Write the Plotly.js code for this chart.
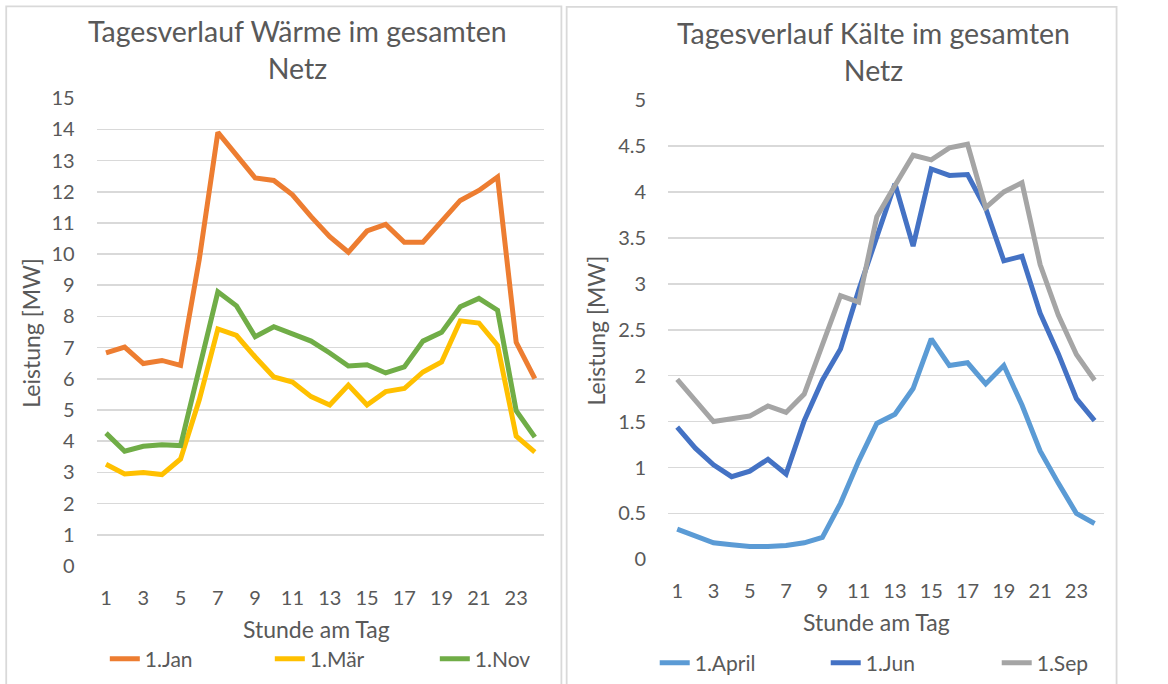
<!DOCTYPE html>
<html>
<head>
<meta charset="utf-8">
<script src="https://cdn.plot.ly/plotly-3.0.1.min.js"></script>
<style>
  html, body { margin: 0; padding: 0; background: #ffffff; overflow: hidden; }
  #chart { width: 1168px; height: 684px; }
</style>
</head>
<body>
<div id="chart"></div>
<script>
// Hours of the day (category axis)
const hours = [1,2,3,4,5,6,7,8,9,10,11,12,13,14,15,16,17,18,19,20,21,22,23,24];
const hourTicks = [1,3,5,7,9,11,13,15,17,19,21,23];

// Left chart: Wärme [MW]
const warmNames = ["1.Jan", "1.Mär", "1.Nov"];
const jan = [6.83, 7.02, 6.49, 6.59, 6.43, 9.82, 13.9, 13.15, 12.44, 12.36, 11.9, 11.2, 10.56, 10.06, 10.74, 10.95, 10.38, 10.38, 11.06, 11.72, 12.04, 12.47, 7.17, 6.01];
const mar = [3.26, 2.95, 3.0, 2.93, 3.43, 5.32, 7.6, 7.39, 6.7, 6.06, 5.9, 5.43, 5.16, 5.8, 5.16, 5.59, 5.69, 6.22, 6.54, 7.86, 7.79, 7.07, 4.16, 3.65];
const nov = [4.26, 3.68, 3.84, 3.89, 3.86, 6.33, 8.79, 8.34, 7.35, 7.67, 7.42, 7.21, 6.83, 6.41, 6.45, 6.19, 6.38, 7.21, 7.49, 8.31, 8.58, 8.2, 4.98, 4.13];

// Right chart: Kälte [MW]
const coldNames = ["1.April", "1.Jun", "1.Sep"];
const april = [0.33, 0.25, 0.18, 0.16, 0.14, 0.14, 0.15, 0.18, 0.24, 0.61, 1.07, 1.48, 1.58, 1.86, 2.40, 2.11, 2.14, 1.91, 2.11, 1.68, 1.18, 0.83, 0.50, 0.39];
const jun = [1.44, 1.21, 1.03, 0.90, 0.96, 1.09, 0.93, 1.51, 1.95, 2.29, 2.93, 3.53, 4.09, 3.41, 4.25, 4.18, 4.19, 3.82, 3.25, 3.30, 2.68, 2.24, 1.75, 1.51];
const sep = [1.96, 1.73, 1.50, 1.53, 1.56, 1.67, 1.60, 1.80, 2.35, 2.87, 2.80, 3.73, 4.07, 4.40, 4.35, 4.48, 4.52, 3.83, 4.00, 4.10, 3.21, 2.66, 2.23, 1.95];

const titleLeft = "Tagesverlauf Wärme im gesamten<br>Netz";
const titleRight = "Tagesverlauf Kälte im gesamten<br>Netz";
const xTitle = "Stunde am Tag";
const yTitle = "Leistung [MW]";

const W = 1168, H = 684;
const FONT = "Lato, 'Open Sans', sans-serif";
const TXT = "#595959";
const GRID = "#D9D9D9";
const px = v => v / W;
const py = v => (H - v) / H;

function line(x, y, name, color, xa, ya, leg) {
  return { x: x, y: y, name: name, type: "scatter", mode: "lines",
           line: { color: color, width: 5, shape: "linear" },
           xaxis: xa, yaxis: ya, legend: leg, hoverinfo: "x+y+name" };
}

const data = [
  line(hours, jan, warmNames[0], "#ED7D31", "x", "y", "legend"),
  line(hours, mar, warmNames[1], "#FFC000", "x", "y", "legend"),
  line(hours, nov, warmNames[2], "#70AD47", "x", "y", "legend"),
  line(hours, april, coldNames[0], "#5B9BD5", "x2", "y2", "legend2"),
  line(hours, jun, coldNames[1], "#4472C4", "x2", "y2", "legend2"),
  line(hours, sep, coldNames[2], "#A5A5A5", "x2", "y2", "legend2")
];

const tickFont = { family: FONT, size: 20, color: TXT };
function xAxis(domain) {
  return { domain: domain, range: [0.5, 24.5], tickmode: "array", tickvals: hourTicks,
           showgrid: false, zeroline: false, showline: false, ticks: "",
           tickfont: tickFont, ticklabelstandoff: 18, fixedrange: true };
}
function yAxis(domain, range, dtick) {
  return { domain: domain, range: range, dtick: dtick, tick0: 0,
           showgrid: true, gridcolor: GRID, gridwidth: 1.6, zeroline: false, showline: false,
           ticks: "", tickfont: tickFont, ticklabelstandoff: 21, fixedrange: true };
}

const layout = {
  width: W, height: H, autosize: false,
  margin: { l: 0, r: 0, t: 0, b: 0, pad: 0 },
  paper_bgcolor: "#ffffff", plot_bgcolor: "rgba(0,0,0,0)",
  font: { family: FONT, color: TXT },
  xaxis: xAxis([px(101), px(568.5)]),
  yaxis: Object.assign(yAxis([py(571), py(99)], [0, 15], 1), { anchor: "x" }),
  xaxis2: Object.assign(xAxis([px(698), px(1153)]), { anchor: "y2" }),
  yaxis2: Object.assign(yAxis([py(564.3), py(101)], [0, 5], 0.5), { anchor: "x2" }),
  legend: { orientation: "h", x: px(109.5), xanchor: "left", y: py(665), yanchor: "middle",
            font: { family: FONT, size: 21, color: TXT }, bgcolor: "rgba(0,0,0,0)",
            entrywidth: 120, entrywidthmode: "pixels", traceorder: "normal" },
  legend2: { orientation: "h", x: px(684), xanchor: "left", y: py(669), yanchor: "middle",
             font: { family: FONT, size: 21, color: TXT }, bgcolor: "rgba(0,0,0,0)",
             entrywidth: 126, entrywidthmode: "pixels", traceorder: "normal" },
  shapes: [
    { type: "rect", xref: "paper", yref: "paper", x0: px(6.5), x1: px(586.5), y0: -0.05, y1: py(6.5),
      line: { color: GRID, width: 1.8 }, fillcolor: "rgba(0,0,0,0)", layer: "below" },
    { type: "rect", xref: "paper", yref: "paper", x0: px(592), x1: px(1166.5), y0: -0.05, y1: py(7),
      line: { color: GRID, width: 1.8 }, fillcolor: "rgba(0,0,0,0)", layer: "below" }
  ],
  annotations: [
    { text: titleLeft, xref: "paper", yref: "paper", x: px(311), y: py(50), xanchor: "center", yanchor: "middle",
      showarrow: false, font: { family: FONT, size: 28.5, color: TXT } },
    { text: titleRight, xref: "paper", yref: "paper", x: px(913), y: py(52), xanchor: "center", yanchor: "middle",
      showarrow: false, font: { family: FONT, size: 28.5, color: TXT } },
    { text: xTitle, xref: "paper", yref: "paper", x: px(331), y: py(635), xanchor: "center", yanchor: "middle",
      showarrow: false, font: { family: FONT, size: 23, color: TXT } },
    { text: xTitle, xref: "paper", yref: "paper", x: px(916), y: py(628), xanchor: "center", yanchor: "middle",
      showarrow: false, font: { family: FONT, size: 23, color: TXT } },
    { text: yTitle, xref: "paper", yref: "paper", x: px(32), y: py(336), xanchor: "center", yanchor: "middle",
      textangle: -90, showarrow: false, font: { family: FONT, size: 23, color: TXT } },
    { text: yTitle, xref: "paper", yref: "paper", x: px(623), y: py(333), xanchor: "center", yanchor: "middle",
      textangle: -90, showarrow: false, font: { family: FONT, size: 23, color: TXT } }
  ]
};

Plotly.newPlot("chart", data, layout, { displayModeBar: false, staticPlot: true });
</script>
</body>
</html>
